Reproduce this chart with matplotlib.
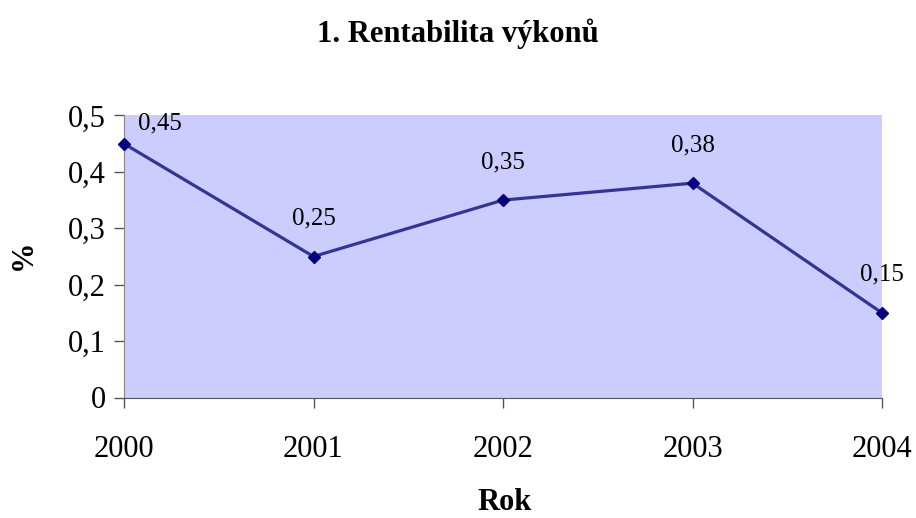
import numpy as np
import matplotlib.pyplot as plt
from matplotlib.ticker import FuncFormatter

years = [2000, 2001, 2002, 2003, 2004]
values = [0.45, 0.25, 0.35, 0.38, 0.15]

plt.rcParams['font.family'] = ['Liberation Serif', 'DejaVu Serif']

fig = plt.figure(figsize=(9.16, 5.18), dpi=100)
ax = fig.add_axes([124 / 916, 1 - 397.5 / 518, (882 - 124) / 916, (397.5 - 115.5) / 518])

ax.set_facecolor('#ccccff')
ax.plot(years, values, color='#333399', lw=2.3, marker='D', ms=6,
        mfc='#000080', mec='#000080', clip_on=False, zorder=3)

# data labels above points, first one pushed right of the left edge
for i, (x, y) in enumerate(zip(years, values)):
    dx = 36 if i == 0 else 0
    dy = 20 if i == 0 else 38
    ax.annotate(f"{y:.2f}".replace('.', ','), (x, y), xytext=(dx, dy),
                textcoords='offset pixels', ha='center', va='center', fontsize=18)

ax.set_xlim(2000, 2004)
ax.set_ylim(0, 0.5)
ax.set_xticks(years)
ax.set_yticks(np.arange(0, 0.51, 0.1))
ax.yaxis.set_major_formatter(FuncFormatter(lambda v, p: "0" if abs(v) < 1e-9 else f"{v:.1f}".replace('.', ',')))
ax.tick_params(labelsize=22, length=7, width=1, color='#555555', pad=6)
ax.tick_params(axis='x', pad=20)

for s in ['top', 'right']:
    ax.spines[s].set_visible(False)
ax.spines['left'].set_color('#888888')
ax.spines['bottom'].set_color('#555555')

fig.text(458 / 916, 1 - 34 / 518, "1. Rentabilita výkonů", ha='center', va='center',
         fontsize=22, fontweight='bold')
fig.text(505 / 916, 1 - 503 / 518, "Rok", ha='center', va='center',
         fontsize=22, fontweight='bold')
fig.text(23 / 916, 1 - 255 / 518, "%", ha='center', va='center',
         fontsize=22, fontweight='bold', rotation=90)

fig.savefig('out.png', dpi=100)
